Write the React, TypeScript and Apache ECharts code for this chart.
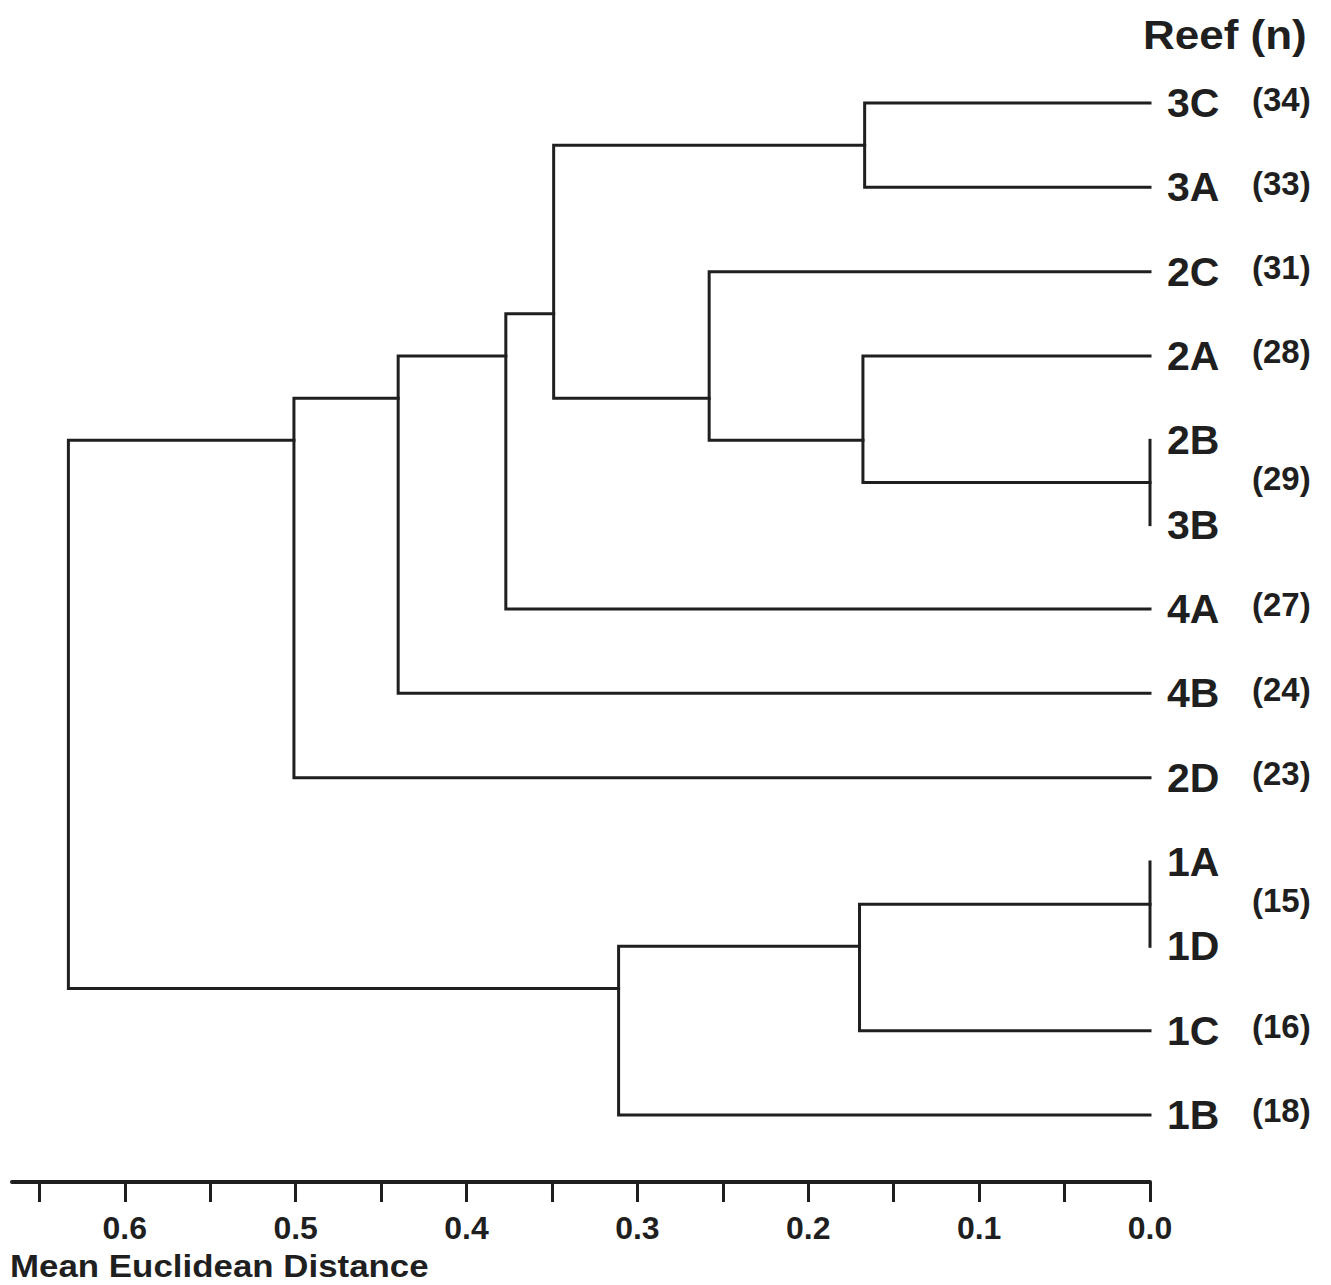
import React, { useEffect, useRef } from "react";
import * as echarts from "echarts";

// Leaves (top to bottom)
const leaves = ["3C", "3A", "2C", "2A", "2B", "3B", "4A", "4B", "2D", "1A", "1D", "1C", "1B"];
// Merges: left child, right child, height (mean Euclidean distance)
const mergeLeft = ["3C", "2B", "2A", "2C", "m0", "m4", "m5", "m6", "1A", "m8", "m9", "m7"];
const mergeRight = ["3A", "3B", "m1", "m2", "m3", "4A", "4B", "2D", "1D", "1C", "1B", "m10"];
const mergeHeights = [0.167, 0.0, 0.168, 0.258, 0.349, 0.377, 0.44, 0.501, 0.0, 0.17, 0.311, 0.633];
// Sample sizes
const countLabels = ["(34)", "(33)", "(31)", "(28)", "(29)", "(27)", "(24)", "(23)", "(15)", "(16)", "(18)"];
const countGroups = [["3C"], ["3A"], ["2C"], ["2A"], ["2B", "3B"], ["4A"], ["4B"], ["2D"], ["1A", "1D"], ["1C"], ["1B"]];
// Axis ticks
const tickValues = [0, 0.05, 0.1, 0.15, 0.2, 0.25, 0.3, 0.35, 0.4, 0.45, 0.5, 0.55, 0.6, 0.65];
const labelValues = [0, 0.1, 0.2, 0.3, 0.4, 0.5, 0.6];

const FONT = "'Liberation Sans', Arial, Helvetica, sans-serif";
const INK = "#1f1f1f";

function buildNodes() {
  const nodes: Record<string, { h: number; y: number; idx: number[] }> = {};
  leaves.forEach((l, i) => (nodes[l] = { h: 0, y: i, idx: [i] }));
  mergeHeights.forEach((h, k) => {
    const a = nodes[mergeLeft[k]];
    const b = nodes[mergeRight[k]];
    const idx = a.idx.concat(b.idx);
    const y = idx.reduce((s, v) => s + v, 0) / idx.length;
    nodes["m" + k] = { h, y, idx };
  });
  return nodes;
}

export default function App() {
  const ref = useRef<HTMLDivElement>(null);
  useEffect(() => {
    if (!ref.current) return;
    const chart = echarts.init(ref.current, undefined, { renderer: "svg" });
    const nodes = buildNodes();

    const linkSeries = mergeHeights.map((h, k) => {
      const a = nodes[mergeLeft[k]];
      const b = nodes[mergeRight[k]];
      return {
        type: "line",
        data: [
          [a.h, a.y],
          [h, a.y],
          [h, b.y],
          [b.h, b.y],
        ],
        symbol: "none",
        clip: false,
        silent: true,
        lineStyle: { color: INK, width: 3, cap: "square", join: "miter" },
      };
    });

    const leafSeries = {
      type: "scatter",
      symbolSize: 0,
      silent: true,
      itemStyle: { opacity: 1 },
      data: leaves.map((l, i) => ({ name: l, value: [0, i] })),
      label: {
        show: true,
        position: "right",
        distance: 17,
        formatter: "{b}",
        fontFamily: FONT,
        fontWeight: "bold",
        fontSize: 41,
        color: INK,
      },
    };

    const countSeries = {
      type: "scatter",
      symbolSize: 0,
      silent: true,
      itemStyle: { opacity: 1 },
      data: countLabels.map((c, k) => {
        const ids = countGroups[k].map((g) => leaves.indexOf(g));
        const y = ids.reduce((s, v) => s + v, 0) / ids.length;
        return { name: c, value: [0, y] };
      }),
      label: {
        show: true,
        position: "right",
        distance: 102,
        offset: [0, -4],
        formatter: "{b}",
        fontFamily: FONT,
        fontWeight: "bold",
        fontSize: 33,
        color: INK,
      },
    };

    chart.setOption({
      animation: false,
      backgroundColor: "#ffffff",
      grid: { left: 12, right: 181, top: 103, bottom: 103 },
      xAxis: {
        type: "value",
        position: "bottom",
        inverse: true,
        min: 0,
        max: 0.666,
        splitLine: { show: false },
        axisLine: { show: true, onZero: false, lineStyle: { color: INK, width: 4 } },
        axisTick: {
          show: true,
          inside: false,
          length: 20,
          lineStyle: { color: INK, width: 3 },
          customValues: tickValues,
        },
        axisLabel: {
          customValues: labelValues,
          formatter: (v: number) => v.toFixed(1),
          margin: 30,
          fontFamily: FONT,
          fontWeight: "bold",
          fontSize: 32,
          color: INK,
        },
      },
      yAxis: {
        type: "value",
        inverse: true,
        min: 0,
        max: 12.795,
        show: false,
      },
      graphic: [
        {
          type: "text",
          x: 1143,
          y: 35,
          scaleX: 1.1,
          style: {
            text: "Reef (n)",
            fontFamily: FONT,
            fontWeight: "bold",
            fontSize: 40,
            fill: INK,
            verticalAlign: "middle",
          },
        },
        {
          type: "text",
          x: 10,
          y: 1266,
          scaleX: 1.09,
          style: {
            text: "Mean Euclidean Distance",
            fontFamily: FONT,
            fontWeight: "bold",
            fontSize: 32,
            fill: INK,
            verticalAlign: "middle",
          },
        },
      ],
      series: [...linkSeries, leafSeries, countSeries],
    });
    return () => chart.dispose();
  }, []);
  return (
    <div
      ref={ref}
      style={{ position: "fixed", left: 0, top: 0, width: 1331, height: 1285, background: "#fff" }}
    />
  );
}
